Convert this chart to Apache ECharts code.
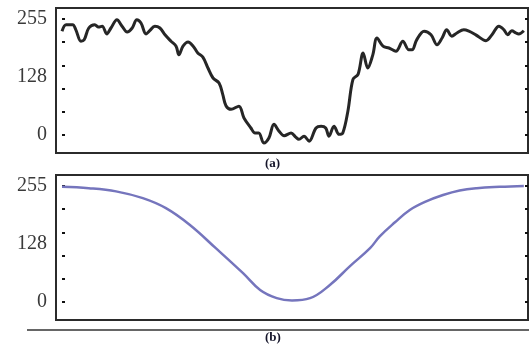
<!DOCTYPE html>
<html>
<head>
<meta charset="utf-8">
<script src="https://cdn.jsdelivr.net/npm/echarts@6/dist/echarts.min.js"></script>
<style>
  html, body { margin: 0; padding: 0; background: #fff; }
  #chart { width: 529px; height: 353px; }
</style>
</head>
<body>
<div id="chart"></div>
<script>
// profile position (0..100) and grey level, panel (a): measured intensity
var topX = [0, 0.9, 2.3, 3.0, 4.1, 4.8, 5.8, 7.1, 7.9, 8.7, 9.7, 10.6, 11.9, 13.0, 14.1, 15.2, 16.2, 17.1, 18.2, 19.0,
	20.1, 21.2, 22.3, 23.6, 24.7, 25.3, 26.2, 27.3, 28.4, 29.4, 30.5, 31.6, 32.7, 34.0, 34.8, 35.5, 36.6, 38.3, 39.4,
	40.9, 41.8, 42.6, 43.7, 44.8, 45.9, 47.0, 48.1, 49.6, 50.6, 51.3, 52.4, 53.5, 55.0, 56.1, 57.1, 57.8, 58.9, 60.0,
	60.8, 61.9, 63.0, 64.1, 65.2, 66.2, 67.3, 68.2, 69.5, 70.8, 72.3, 73.8, 75.1, 75.8, 76.8, 78.4, 79.9, 81.2, 82.3,
	83.3, 84.4, 85.5, 87.0, 88.1, 89.6, 91.8, 93.1, 94.6, 95.7, 96.5, 97.4, 98.3, 98.9, 100];
var topY = [228, 242, 242, 231, 206, 209, 235, 242, 237, 239, 222, 235, 253, 239, 226, 235, 253, 246, 222, 229,
	239, 235, 220, 206, 195, 176, 195, 204, 195, 180, 171, 147, 125, 114, 89, 64, 56, 63, 37,
	15, 4, 4, -18, -7, 23, 8, -2, 4, -5, -10, -3, -14, 15, 19, 15, -3, 19, 1,
	4, 52, 122, 133, 180, 147, 176, 213, 195, 191, 184, 206, 187, 187, 209, 228, 220, 198, 213,
	231, 217, 224, 231, 228, 220, 207, 220, 239, 231, 220, 229, 224, 222, 229];

// panel (b): fitted profile
var bottomX = [0, 5.8, 11.7, 17.5, 22.5, 27.7, 33.3, 39.2, 42.9, 46.5, 49.8, 53.7, 58.0, 62.3, 66.7, 68.8,
	72.1, 75.3, 78.6, 82.5, 86.1, 89.8, 94.8, 100];
var bottomY = [253, 250, 243, 228, 206, 169, 118, 63, 26, 8, 3, 8, 37, 78, 118, 144,
	175, 202, 220, 235, 245, 250, 253, 255];

var yTicks = [0, 51, 102, 153, 204, 255];
var yLabels = [0, 128, 255];
var panelNames = ['(a)', '(b)'];

function pairs(xs, ys){
	var out = [];
	for (var i = 0; i < xs.length; i++){
		out.push([xs[i], ys[i]]);
	}
	return out;
}

var chart = echarts.init(document.getElementById('chart'), null, {renderer: 'canvas'});

var grids = [];
var xAxes = [];
var yAxes = [];
var tops = [8, 175];
for (var g = 0; g < 2; g++){
	grids.push({
		left: 56, top: tops[g], width: 472, height: 145,
		show: true, borderColor: '#2b2b2b', borderWidth: 2, backgroundColor: '#fff'
	});
	xAxes.push({
		type: 'value', gridIndex: g, min: -1.3, max: 100.9,
		axisLine: {show: false}, axisTick: {show: false}, axisLabel: {show: false}, splitLine: {show: false}
	});
	// left axis with labels
	yAxes.push({
		type: 'value', gridIndex: g, min: -40, max: 279, position: 'left',
		axisLine: {show: false},
		axisTick: {show: true, inside: true, length: 3, customValues: yTicks, lineStyle: {color: '#111', width: 2}},
		axisLabel: {
			show: true, customValues: yLabels, margin: 9,
			fontFamily: 'Liberation Serif', fontSize: 20, color: '#3a3a3a'
		},
		splitLine: {show: false}
	});
	// right frame ticks
	yAxes.push({
		type: 'value', gridIndex: g, min: -40, max: 279, position: 'right',
		axisLine: {show: false},
		axisTick: {show: true, inside: true, length: 3, customValues: yTicks, lineStyle: {color: '#111', width: 2}},
		axisLabel: {show: false},
		splitLine: {show: false}
	});
}

var option = {
	backgroundColor: '#fff',
	animation: false,
	grid: grids,
	xAxis: xAxes,
	yAxis: yAxes,
	series: [
		{
			type: 'line', xAxisIndex: 0, yAxisIndex: 0,
			data: pairs(topX, topY),
			smooth: 0.35, symbol: 'none',
			lineStyle: {color: '#262626', width: 3}
		},
		{
			type: 'line', xAxisIndex: 1, yAxisIndex: 2,
			data: pairs(bottomX, bottomY),
			smooth: 0.4, symbol: 'none',
			lineStyle: {color: '#7575bd', width: 2.5}
		}
	],
	graphic: [
		{
			type: 'line', shape: {x1: 27, y1: 330, x2: 529, y2: 330},
			style: {stroke: '#333', lineWidth: 1.5}
		},
		{
			type: 'text', left: 265, top: 157,
			style: {text: panelNames[0], font: 'bold 13px "Liberation Serif"', fill: '#15152a'}
		},
		{
			type: 'text', left: 265, top: 331,
			style: {text: panelNames[1], font: 'bold 13px "Liberation Serif"', fill: '#15152a'}
		}
	]
};

chart.setOption(option);
</script>
</body>
</html>
